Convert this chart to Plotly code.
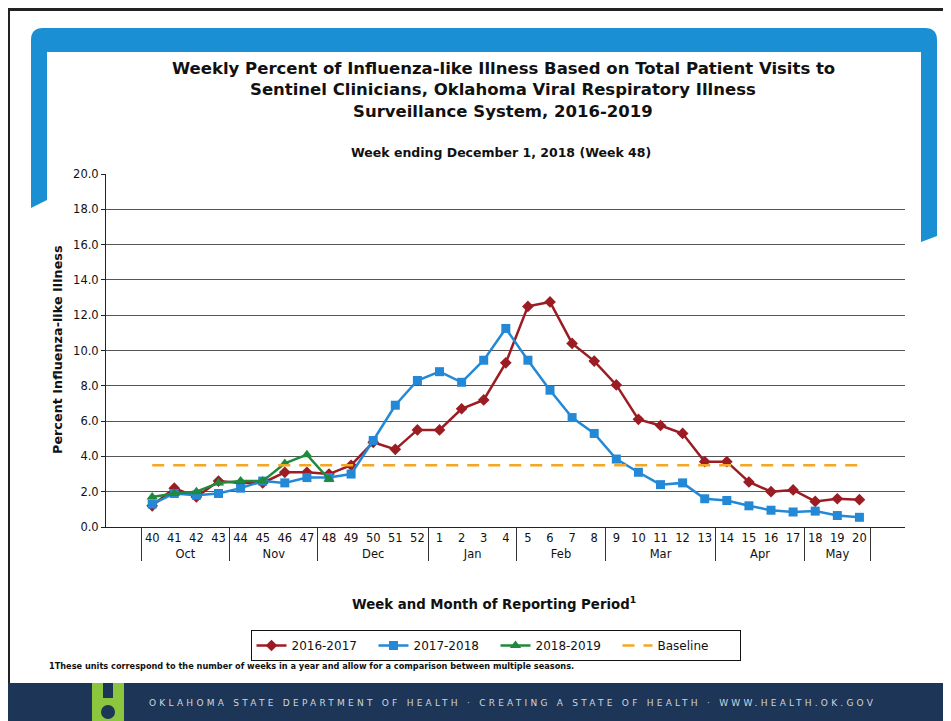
import plotly.graph_objects as go

# week numbers and the month each belongs to
weeks = ["40", "41", "42", "43", "44", "45", "46", "47", "48", "49", "50", "51", "52",
         "1", "2", "3", "4", "5", "6", "7", "8", "9", "10", "11", "12", "13",
         "14", "15", "16", "17", "18", "19", "20"]
months = ["Oct", "Oct", "Oct", "Oct", "Nov", "Nov", "Nov", "Nov", "Dec", "Dec", "Dec", "Dec", "Dec",
          "Jan", "Jan", "Jan", "Jan", "Feb", "Feb", "Feb", "Feb", "Mar", "Mar", "Mar", "Mar", "Mar",
          "Apr", "Apr", "Apr", "Apr", "May", "May", "May"]

ili_2016_2017 = [1.2, 2.2, 1.7, 2.6, 2.5, 2.5, 3.1, 3.1, 3.0, 3.5, 4.8, 4.4, 5.5,
                 5.5, 6.7, 7.2, 9.3, 12.5, 12.75, 10.4, 9.4, 8.05, 6.1, 5.75, 5.3, 3.7,
                 3.7, 2.55, 2.0, 2.1, 1.45, 1.6, 1.55]
ili_2017_2018 = [1.3, 1.9, 1.8, 1.9, 2.2, 2.6, 2.5, 2.8, 2.8, 3.0, 4.9, 6.9, 8.3,
                 8.8, 8.2, 9.45, 11.25, 9.45, 7.75, 6.2, 5.3, 3.85, 3.1, 2.4, 2.5, 1.6,
                 1.5, 1.2, 0.95, 0.85, 0.9, 0.65, 0.55]
# current season so far (weeks 40-48)
ili_2018_2019 = [1.7, 1.9, 2.0, 2.5, 2.6, 2.6, 3.6, 4.1, 2.7]
baseline = [3.5, 3.5, 3.5, 3.5, 3.5, 3.5, 3.5, 3.5, 3.5, 3.5, 3.5, 3.5, 3.5,
            3.5, 3.5, 3.5, 3.5, 3.5, 3.5, 3.5, 3.5, 3.5, 3.5, 3.5, 3.5, 3.5,
            3.5, 3.5, 3.5, 3.5, 3.5, 3.5, 3.5]

title_lines = ["Weekly Percent of Influenza-like Illness Based on Total Patient Visits to",
               "Sentinel Clinicians, Oklahoma Viral Respiratory Illness",
               "Surveillance System, 2016-2019"]
subtitle = "Week ending December 1, 2018 (Week 48)"
footnote = "1These units correspond to the number of weeks in a year and allow for a comparison between multiple seasons."
footer = "OKLAHOMA STATE DEPARTMENT OF HEALTH \u00b7 CREATING A STATE OF HEALTH \u00b7 WWW.HEALTH.OK.GOV"

# page coordinates (the page body adds an 8px margin around the figure div)
OFF = 8
W, H = 951, 721
L, R, T, B = 106, 905, 174, 527
FONT = "DejaVu Sans, Arial, sans-serif"


def px(x):
    return (x - L) / (R - L)


def py(y):
    return (B - y) / (B - T)


def pt(x, y):
    return f"{px(x):.5f},{py(y):.5f}"


fig = go.Figure()

fig.add_trace(go.Scatter(
    x=[months, weeks], y=ili_2016_2017, name="2016-2017", mode="lines+markers",
    line=dict(color="#9b1c22", width=2.5),
    marker=dict(symbol="diamond", size=9, color="#9b1c22"),
))
fig.add_trace(go.Scatter(
    x=[months, weeks], y=ili_2017_2018, name="2017-2018", mode="lines+markers",
    line=dict(color="#2389d6", width=2.5),
    marker=dict(symbol="square", size=9, color="#2389d6"),
))
fig.add_trace(go.Scatter(
    x=[months[:len(ili_2018_2019)], weeks[:len(ili_2018_2019)]], y=ili_2018_2019,
    name="2018-2019", mode="lines+markers",
    line=dict(color="#1f8a3c", width=2.5),
    marker=dict(symbol="triangle-up", size=10, color="#1f8a3c"),
))
fig.add_trace(go.Scatter(
    x=[months, weeks], y=baseline, name="Baseline", mode="lines",
    line=dict(color="#f5a623", width=2.5, dash="12px,9px"),
))

# page decorations: blue banner, scan border, footer band with logo
banner = ("M" + pt(31, 208) + " L" + pt(31, 40) + " Q" + pt(31, 28) + " " + pt(43, 28) +
          " L" + pt(925, 28) + " Q" + pt(937, 28) + " " + pt(937, 40) +
          " L" + pt(937, 236) + " L" + pt(921, 242) + " L" + pt(921, 52) +
          " L" + pt(47, 52) + " L" + pt(47, 200) + " Z")
shapes = [
    dict(type="path", path=banner, xref="paper", yref="paper",
         fillcolor="#1b8fd4", line=dict(width=0), layer="below"),
    dict(type="line", xref="paper", yref="paper", x0=px(8), x1=px(951), y0=py(9.5), y1=py(9.5),
         line=dict(color="#222", width=3)),
    dict(type="line", xref="paper", yref="paper", x0=px(9), x1=px(9), y0=py(8), y1=py(684),
         line=dict(color="#222", width=2)),
    dict(type="rect", xref="paper", yref="paper", x0=px(0), x1=px(951), y0=py(683), y1=py(721),
         fillcolor="#1d3557", line=dict(width=0)),
    dict(type="rect", xref="paper", yref="paper", x0=px(92), x1=px(124), y0=py(683), y1=py(721),
         fillcolor="#8cc63f", line=dict(width=0)),
    dict(type="rect", xref="paper", yref="paper", x0=px(103), x1=px(113), y0=py(683), y1=py(698),
         fillcolor="#1d3557", line=dict(width=0)),
    dict(type="circle", xref="paper", yref="paper", x0=px(101), x1=px(115), y0=py(705), y1=py(719),
         fillcolor="#1d3557", line=dict(width=0)),
]

annotations = []
for i, line in enumerate(title_lines):
    annotations.append(dict(
        text=f"<b>{line}</b>", x=px(503), y=py(68 + 21.5 * i), xref="paper", yref="paper",
        showarrow=False, xanchor="center", yanchor="middle",
        font=dict(size=16.5, color="#111", family=FONT)))
annotations += [
    dict(text=f"<b>{subtitle}</b>", x=px(501), y=py(152), xref="paper", yref="paper",
         showarrow=False, xanchor="center", yanchor="middle",
         font=dict(size=12.5, color="#111", family=FONT)),
    dict(text="<b>Percent Influenza-like Illness</b>", x=px(57), y=py(350), xref="paper",
         yref="paper", showarrow=False, textangle=-90, xanchor="center", yanchor="middle",
         font=dict(size=12.8, color="#111", family=FONT)),
    dict(text="<b>Week and Month of Reporting Period<sup>1</sup></b>", x=px(494), y=py(603),
         xref="paper", yref="paper", showarrow=False, xanchor="center", yanchor="middle",
         font=dict(size=13.3, color="#111", family=FONT)),
    dict(text=f"<b>{footnote}</b>", x=px(47), y=py(666), xref="paper", yref="paper",
         showarrow=False, xanchor="left", yanchor="middle",
         font=dict(size=8.2, color="#111", family=FONT)),
    dict(text=f'<span style="letter-spacing:3.25px">{footer}</span>', x=px(147), y=py(703),
         xref="paper", yref="paper", showarrow=False, xanchor="left", yanchor="middle",
         font=dict(size=9, color="#cfd5de", family=FONT)),
]

fig.update_layout(
    width=W - OFF, height=H - OFF,
    margin=dict(l=L - OFF, r=W - R, t=T - OFF, b=H - B, autoexpand=False),
    paper_bgcolor="white", plot_bgcolor="white",
    font=dict(family=FONT, color="#111", size=12),
    showlegend=True,
    legend=dict(orientation="h", x=px(495.5), xanchor="center", y=py(630), yanchor="top",
                bordercolor="#111", borderwidth=1, bgcolor="white",
                font=dict(size=12, color="#111"), entrywidth=77, entrywidthmode="pixels"),
    xaxis=dict(type="multicategory", showdividers=True, dividercolor="#333", dividerwidth=1,
               showline=True, linecolor="#222", linewidth=1, showgrid=False, ticks="",
               tickangle=0, tickfont=dict(size=11.5, color="#111")),
    yaxis=dict(range=[0, 20], dtick=2, tickformat=".1f", showgrid=True, gridcolor="#555",
               gridwidth=1, showline=True, linecolor="#222", linewidth=1, ticks="outside",
               ticklen=4, tickcolor="#222", zeroline=False,
               tickfont=dict(size=11.5, color="#111")),
    shapes=shapes,
    annotations=annotations,
)

fig.write_html("out.html")
